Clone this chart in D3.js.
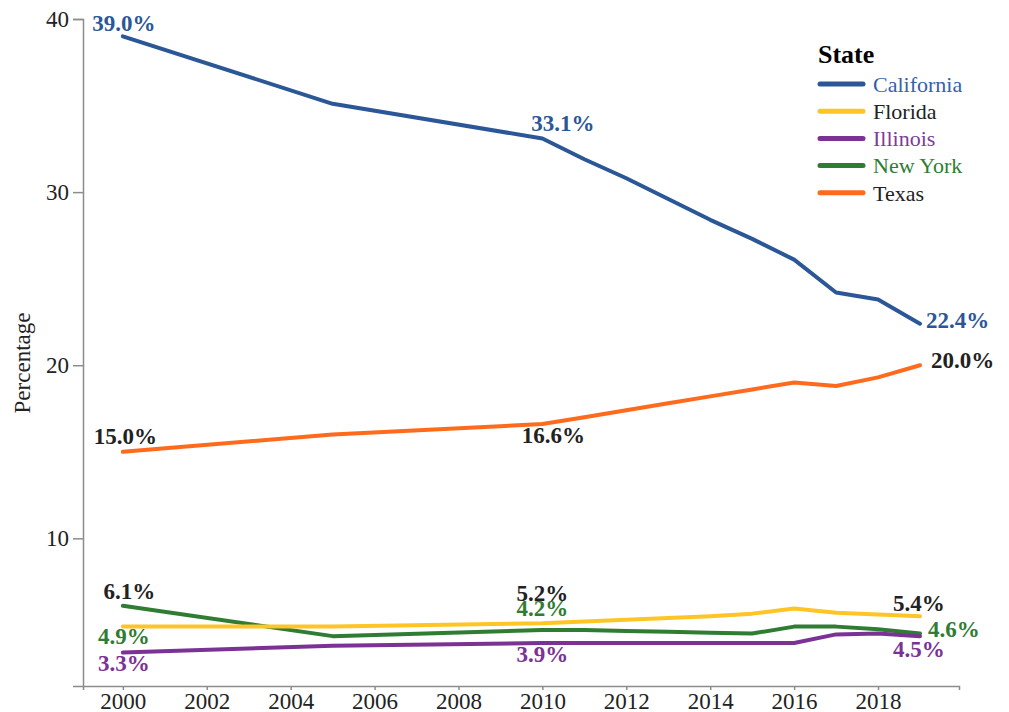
<!DOCTYPE html>
<html>
<head>
<meta charset="utf-8">
<script src="https://cdn.jsdelivr.net/npm/d3@7"></script>
<style>
  body { margin: 0; background: #fff; }
  svg text { font-family: "Liberation Serif", "Times New Roman", serif; }
</style>
</head>
<body>
<script>
// data
var states = ["California", "Florida", "Illinois", "New York", "Texas"];
var years = [2000, 2005, 2010, 2011, 2012, 2013, 2014, 2015, 2016, 2017, 2018, 2019];
var california = [39.0, 35.1, 33.1, 31.9, 30.8, 29.6, 28.4, 27.3, 26.1, 24.2, 23.8, 22.4];
var florida    = [4.9, 4.9, 5.1, 5.2, 5.3, 5.4, 5.5, 5.65, 5.95, 5.7, 5.6, 5.5];
var illinois   = [3.4, 3.8, 3.95, 3.95, 3.95, 3.95, 3.95, 3.95, 3.95, 4.45, 4.5, 4.35];
var newYork    = [6.1, 4.35, 4.7, 4.7, 4.65, 4.6, 4.55, 4.5, 4.9, 4.9, 4.75, 4.5];
var texas      = [15.0, 16.0, 16.6, 17.0, 17.4, 17.8, 18.2, 18.6, 19.0, 18.8, 19.3, 20.0];
var yTicks = [10, 20, 30, 40];
var xTicks = [2000, 2002, 2004, 2006, 2008, 2010, 2012, 2014, 2016, 2018];
// printed value labels: state, year, text
var labelState = ["California","Texas","New York","Florida","Illinois",
                  "California","Texas","Florida","New York","Illinois",
                  "California","Texas","Florida","New York","Illinois"];
var labelYear = [2000,2000,2000,2000,2000, 2010,2010,2010,2010,2010, 2019,2019,2019,2019,2019];
var labelText = ["39.0%","15.0%","6.1%","4.9%","3.3%",
                 "33.1%","16.6%","5.2%","4.2%","3.9%",
                 "22.4%","20.0%","5.4%","4.6%","4.5%"];

var values = {"California": california, "Florida": florida, "Illinois": illinois,
              "New York": newYork, "Texas": texas};

var lineColor = {"California": "#2b5797", "Florida": "#ffc425", "Illinois": "#7b3294",
                 "New York": "#2e7d32", "Texas": "#ff6a1c"};
var textColor = {"California": "#3462a6", "Florida": "#222", "Illinois": "#7d3c98",
                 "New York": "#2e7d32", "Texas": "#222"};
// colour of each printed label, as in the picture
var labelColor = ["#2b5797","#222","#222","#2e7d32","#7b3294",
                  "#2b5797","#222","#222","#2e7d32","#7b3294",
                  "#2b5797","#222","#222","#2e7d32","#7b3294"];
// placement: anchor, dx, dy from the data point
var labelPlace = [["middle",1,-5.6],["middle",2.5,-7.5],["middle",6.5,-6.5],["middle",1,17.4],["middle",1,18],
                  ["middle",20.5,-7.4],["middle",11,19.2],["middle",0,-22.4],["middle",0,-13.8],["middle",0,19.4],
                  ["start",6,4.6],["start",11,3],["middle",-1,-5.2],["start",8,3.3],["middle",-1,20.7]];

var W = 1009, H = 712;
var svg = d3.select("body").append("svg").attr("width", W).attr("height", H);

var x = d3.scaleLinear().domain([1999.05, 2019.93]).range([83, 959]);
var y = d3.scaleLinear().domain([1.47, 40]).range([686, 19]);

// axes
var yAxis = svg.append("g").attr("transform", "translate(83,0)")
  .call(d3.axisLeft(y).tickValues(yTicks).tickSize(10).tickPadding(4).tickFormat(d3.format("d")));
var xAxis = svg.append("g").attr("transform", "translate(0,686)")
  .call(d3.axisBottom(x).tickValues(xTicks).tickSize(4).tickPadding(3).tickFormat(d3.format("d")));
[xAxis, yAxis].forEach(function(g){
  g.select(".domain").attr("stroke", "#8c8c8c").attr("stroke-width", 1.5);
  g.selectAll(".tick line").attr("stroke", "#8c8c8c").attr("stroke-width", 1.5);
  g.selectAll(".tick text").attr("fill", "#222").style("font-size", "23px");
});

svg.append("text")
  .attr("transform", "translate(30,363) rotate(-90)")
  .attr("text-anchor", "middle")
  .attr("fill", "#222")
  .style("font-size", "23px")
  .text("Percentage");

// lines (drawn Texas first so Florida/Illinois sit over New York)
var line = d3.line()
  .x(function(d, i){ return x(years[i]); })
  .y(function(d){ return y(d); });

var order = ["Texas", "New York", "Illinois", "Florida", "California"];
svg.append("g").selectAll("path").data(order).enter().append("path")
  .attr("d", function(s){ return line(values[s]); })
  .attr("fill", "none")
  .attr("stroke", function(s){ return lineColor[s]; })
  .attr("stroke-width", 4)
  .attr("stroke-linecap", "round")
  .attr("stroke-linejoin", "round");

// value labels
svg.append("g").selectAll("text").data(labelText).enter().append("text")
  .attr("x", function(d, i){ return x(labelYear[i]) + labelPlace[i][1]; })
  .attr("y", function(d, i){
    var v = values[labelState[i]][years.indexOf(labelYear[i])];
    return y(v) + labelPlace[i][2];
  })
  .attr("text-anchor", function(d, i){ return labelPlace[i][0]; })
  .attr("fill", function(d, i){ return labelColor[i]; })
  .style("font-size", "23px")
  .style("font-weight", "bold")
  .text(function(d){ return d; });

// legend
var leg = svg.append("g").attr("transform", "translate(818,0)");
leg.append("text").attr("x", 0).attr("y", 63)
  .style("font-size", "26px").style("font-weight", "bold").attr("fill", "#000")
  .text("State");
var item = leg.selectAll(".item").data(states).enter().append("g")
  .attr("transform", function(d, i){ return "translate(0," + (84 + i * 27.2) + ")"; });
item.append("line")
  .attr("x1", 2).attr("x2", 45).attr("y1", 0).attr("y2", 0)
  .attr("stroke", function(d){ return lineColor[d]; })
  .attr("stroke-width", 5)
  .attr("stroke-linecap", "round");
item.append("text")
  .attr("x", 55).attr("y", 0).attr("dy", "0.35em")
  .attr("fill", function(d){ return textColor[d]; })
  .style("font-size", "22px")
  .text(function(d){ return d; });
</script>
</body>
</html>
